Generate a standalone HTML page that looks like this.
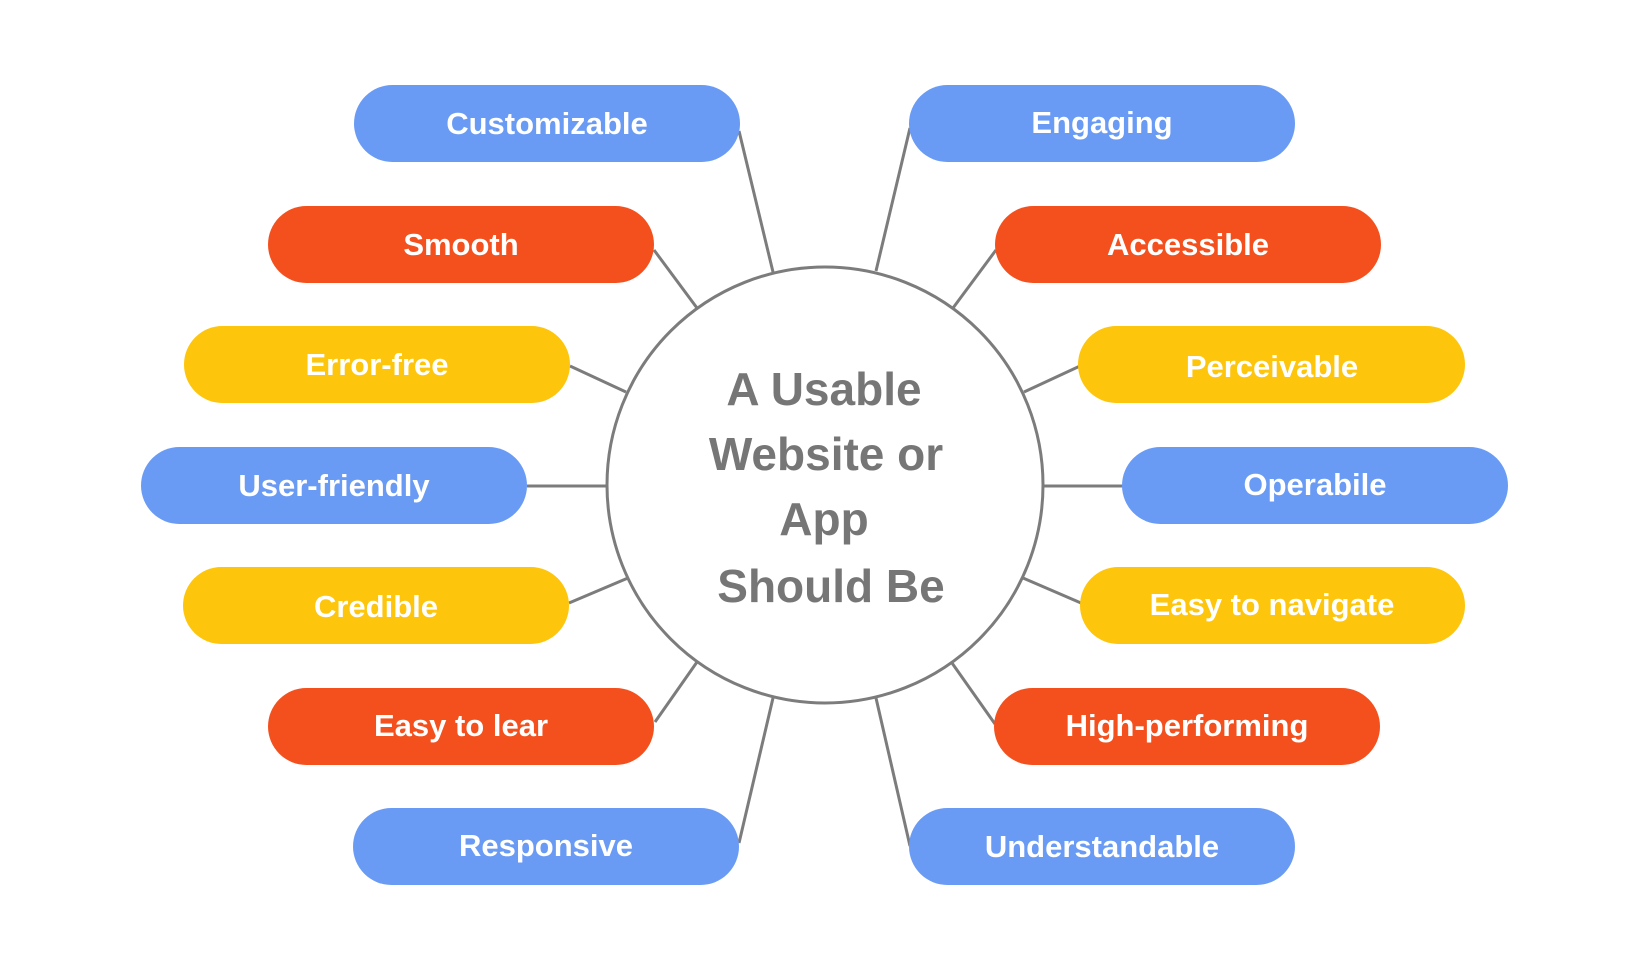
<!DOCTYPE html>
<html>
<head>
<meta charset="utf-8">
<style>
  html, body { margin: 0; padding: 0; background: #ffffff; }
  body { width: 1650px; height: 971px; overflow: hidden; }
  svg { display: block; }
  .pt { font-family: "Liberation Sans", Arial, sans-serif; font-weight: bold; font-size: 31px; fill: #ffffff; text-anchor: middle; }
  .ct { font-family: "Liberation Sans", Arial, sans-serif; font-weight: bold; font-size: 46px; fill: #767676; text-anchor: middle; }
</style>
</head>
<body>
<svg width="1650" height="971" viewBox="0 0 1650 971" xmlns="http://www.w3.org/2000/svg">
  <rect x="0" y="0" width="1650" height="971" fill="#ffffff"/>

  <!-- connectors -->
  <g stroke="#7c7c7c" stroke-width="3" fill="none" stroke-linecap="butt">
    <!-- left -->
    <line x1="739" y1="131" x2="773" y2="272"/>
    <line x1="654" y1="250" x2="697" y2="308"/>
    <line x1="570" y1="366" x2="626" y2="392"/>
    <line x1="527" y1="486" x2="607" y2="486"/>
    <line x1="569" y1="603" x2="628" y2="578"/>
    <line x1="655" y1="722" x2="697" y2="662"/>
    <line x1="739" y1="843" x2="773" y2="698"/>
    <!-- right -->
    <line x1="910" y1="128" x2="876" y2="271"/>
    <line x1="996" y1="250" x2="953" y2="308"/>
    <line x1="1080" y1="366" x2="1024" y2="392"/>
    <line x1="1123" y1="486" x2="1043" y2="486"/>
    <line x1="1081" y1="603" x2="1023" y2="578"/>
    <line x1="995" y1="724" x2="952" y2="663"/>
    <line x1="910" y1="846" x2="876" y2="698"/>
  </g>

  <!-- central circle -->
  <circle cx="825" cy="485" r="218" fill="#ffffff" stroke="#7c7c7c" stroke-width="3"/>
  <text class="ct" x="824" y="405">A Usable</text>
  <text class="ct" x="826" y="470">Website or</text>
  <text class="ct" x="824" y="535">App</text>
  <text class="ct" x="831" y="602">Should Be</text>

  <!-- left pills -->
  <rect x="354" y="85" width="386" height="77" rx="38.5" fill="#6a9bf4"/>
  <text class="pt" x="547" y="134">Customizable</text>

  <rect x="268" y="206" width="386" height="77" rx="38.5" fill="#f4501e"/>
  <text class="pt" x="461" y="255">Smooth</text>

  <rect x="184" y="326" width="386" height="77" rx="38.5" fill="#fdc50b"/>
  <text class="pt" x="377" y="375">Error-free</text>

  <rect x="141" y="447" width="386" height="77" rx="38.5" fill="#6a9bf4"/>
  <text class="pt" x="334" y="496">User-friendly</text>

  <rect x="183" y="567" width="386" height="77" rx="38.5" fill="#fdc50b"/>
  <text class="pt" x="376" y="617">Credible</text>

  <rect x="268" y="688" width="386" height="77" rx="38.5" fill="#f4501e"/>
  <text class="pt" x="461" y="736">Easy to lear</text>

  <rect x="353" y="808" width="386" height="77" rx="38.5" fill="#6a9bf4"/>
  <text class="pt" x="546" y="856">Responsive</text>

  <!-- right pills -->
  <rect x="909" y="85" width="386" height="77" rx="38.5" fill="#6a9bf4"/>
  <text class="pt" x="1102" y="133">Engaging</text>

  <rect x="995" y="206" width="386" height="77" rx="38.5" fill="#f4501e"/>
  <text class="pt" x="1188" y="255">Accessible</text>

  <rect x="1078" y="326" width="387" height="77" rx="38.5" fill="#fdc50b"/>
  <text class="pt" x="1272" y="377">Perceivable</text>

  <rect x="1122" y="447" width="386" height="77" rx="38.5" fill="#6a9bf4"/>
  <text class="pt" x="1315" y="495">Operabile</text>

  <rect x="1080" y="567" width="385" height="77" rx="38.5" fill="#fdc50b"/>
  <text class="pt" x="1272" y="615">Easy to navigate</text>

  <rect x="994" y="688" width="386" height="77" rx="38.5" fill="#f4501e"/>
  <text class="pt" x="1187" y="736">High-performing</text>

  <rect x="909" y="808" width="386" height="77" rx="38.5" fill="#6a9bf4"/>
  <text class="pt" x="1102" y="857">Understandable</text>
</svg>
</body>
</html>
